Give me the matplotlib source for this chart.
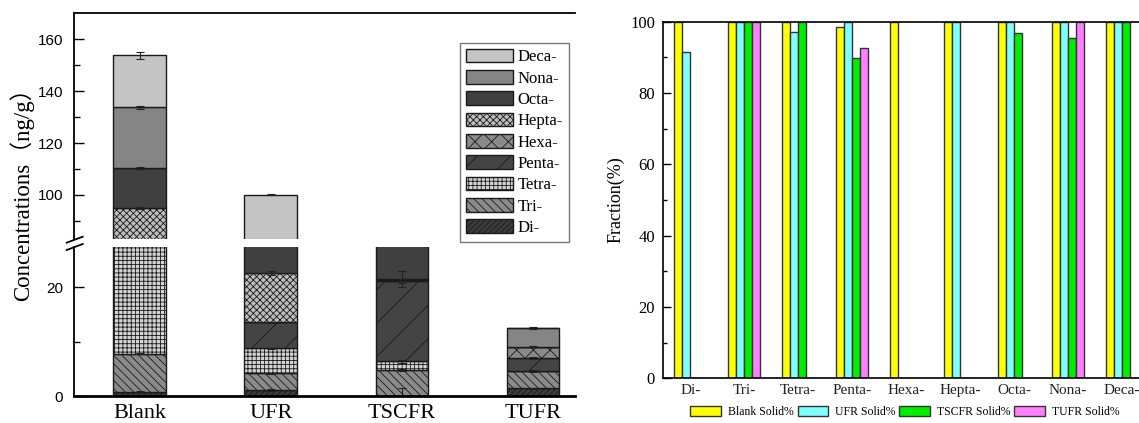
import numpy as np
import matplotlib
matplotlib.use("Agg")
import matplotlib.pyplot as plt
from matplotlib.lines import Line2D

plt.rcParams['hatch.linewidth'] = 0.6
plt.rcParams['hatch.color'] = '#111111'

# ---- donnees : concentrations par homologue (ng/g) ----
samples = ['Blank', 'UFR', 'TSCFR', 'TUFR']
homologs = ['Di-', 'Tri-', 'Tetra-', 'Penta-', 'Hexa-', 'Hepta-', 'Octa-', 'Nona-', 'Deca-']

di = [0.8, 1.1, 0.0, 1.4]
tri = [7.0, 3.1, 4.8, 3.2]
tetra = [62.2, 4.6, 1.6, 0.0]
penta = [0.0, 4.8, 14.8, 2.45]
hexa = [0.0, 0.0, 0.2, 2.05]
hepta = [25.0, 9.0, 0.1, 0.0]
octa = [15.3, 8.0, 20.0, 0.0]
nona = [23.4, 20.0, 0.0, 3.35]
deca = [20.1, 49.4, 0.0, 0.0]

di_err = [0.1, 0.2, 1.5, 0.15]
tri_err = [0.1, 0.1, 0.2, 0.1]
tetra_err = [0.3, 0.1, 0.3, 0.0]
penta_err = [0.0, 0.1, 0.3, 0.2]
hexa_err = [0.0, 0.0, 0.2, 0.1]
hepta_err = [0.3, 0.4, 1.5, 0.0]
octa_err = [0.3, 0.3, 0.3, 0.0]
nona_err = [0.5, 0.3, 0.0, 0.2]
deca_err = [1.3, 0.2, 0.0, 0.0]

# ---- donnees : fraction solide (%) ----
blank_solid = [100, 100, 100, 98.4, 100, 100, 100, 100, 100]
ufr_solid = [91.6, 100, 97.0, 100, 0, 100, 100, 100, 100]
tscfr_solid = [0, 100, 100, 89.7, 0, 0, 96.9, 95.3, 100]
tufr_solid = [0, 100, 0, 92.5, 0, 0, 0, 100, 0]

layers = [di, tri, tetra, penta, hexa, hepta, octa, nona, deca]
errors = [di_err, tri_err, tetra_err, penta_err, hexa_err, hepta_err,
          octa_err, nona_err, deca_err]
styles = [
    ('#3c3c3c', '//////'),
    ('#8a8a8a', '\\\\\\\\'),
    ('#d4d4d4', '++++'),
    ('#444444', '/'),
    ('#8a8a8a', 'xx'),
    ('#bdbdbd', 'xxxxx'),
    ('#404040', None),
    ('#858585', None),
    ('#c4c4c4', None),
]

SERIF = 'Liberation Serif'
SANS = 'Liberation Sans'

W, H = 1139, 423
fig = plt.figure(figsize=(W / 100, H / 100), dpi=100)

def fx(px):
    return px / W

def fy(py):
    return 1 - py / H

ax_hi = fig.add_axes([fx(74), fy(239), fx(575 - 74), fy(13.3) - fy(239)])
ax_lo = fig.add_axes([fx(74), fy(396), fx(575 - 74), fy(246.7) - fy(396)])

x = np.arange(len(samples))
bw = 0.4
handles = []
for ax in (ax_hi, ax_lo):
    bottom = np.zeros(len(samples))
    for i, vals in enumerate(layers):
        col, hatch = styles[i]
        vals = np.array(vals)
        b = ax.bar(x, vals, bw, bottom=bottom, color=col, edgecolor='#1a1a1a',
                   linewidth=1.0, hatch=hatch, label=homologs[i])
        top = bottom + vals
        err = np.array(errors[i])
        m = err > 0
        ax.errorbar(x[m], top[m], yerr=err[m], fmt='none', ecolor='#222222',
                    elinewidth=0.8, capsize=3, capthick=0.8)
        bottom = top
        if ax is ax_hi:
            handles.append(b)

ax_hi.set_ylim(83, 170)
ax_lo.set_ylim(0, 27.5)
for ax in (ax_hi, ax_lo):
    ax.set_xlim(-0.5, 3.32)
    ax.spines['right'].set_visible(False)
    ax.tick_params(axis='y', direction='in', length=7, width=1, pad=8,
                   labelsize=11)
    ax.tick_params(axis='y', which='minor', direction='in', length=4, width=1)
    ax.spines['left'].set_linewidth(1.3)

ax_hi.spines['bottom'].set_visible(False)
ax_hi.spines['top'].set_linewidth(1.3)
ax_hi.set_xticks([])
ax_hi.set_yticks([100, 120, 140, 160])
ax_hi.set_yticks([90, 110, 130, 150], minor=True)

ax_lo.spines['top'].set_visible(False)
ax_lo.spines['bottom'].set_linewidth(2)
ax_lo.set_yticks([0, 20])
ax_lo.set_yticks([10], minor=True)
ax_lo.set_xticks(x)
ax_lo.set_xticklabels(samples, fontfamily=SERIF, fontsize=16)
ax_lo.tick_params(axis='x', length=0, pad=6)
for ax in (ax_hi, ax_lo):
    for lab in ax.get_yticklabels():
        lab.set_fontfamily(SANS)

# marques de coupure de l'axe
for y0 in (242.7, 250.0):
    fig.add_artist(Line2D([fx(66.7), fx(82.7)], [fy(y0), fy(y0 - 6)],
                          color='black', lw=1.3))

fig.text(fx(22), fy(189), 'Concentrations（ng/g）', rotation=90,
         ha='center', va='center', fontsize=16.5,
         family=[SERIF, 'Noto Sans CJK SC'])

leg = fig.legend(handles[::-1], homologs[::-1], loc='upper left',
                 bbox_to_anchor=(fx(460), fy(42.7)),
                 prop={'family': SERIF, 'size': 12}, frameon=True,
                 fancybox=False, edgecolor='#777777', framealpha=1,
                 handlelength=2.8, handleheight=0.9, labelspacing=0.28,
                 handletextpad=0.3, borderpad=0.35, borderaxespad=0)
leg.get_frame().set_linewidth(1.0)
leg.set_zorder(10)

# ---- graphique de droite ----
axr = fig.add_axes([fx(663.3), fy(378.3), fx(1149 - 663.3), fy(21.7) - fy(378.3)])
xr = np.arange(len(homologs))
w = 0.148
series = [(blank_solid, '#ffff00', 'Blank Solid%'),
          (ufr_solid, '#80ffff', 'UFR Solid%'),
          (tscfr_solid, '#00ee00', 'TSCFR Solid%'),
          (tufr_solid, '#ff80ff', 'TUFR Solid%')]
rhandles = []
for k, (vals, col, lab) in enumerate(series):
    b = axr.bar(xr + (k - 1.5) * w, vals, w, color=col, edgecolor='#333333',
                linewidth=1.0, label=lab)
    rhandles.append(b)

axr.set_xlim(-0.5, 8.5)
axr.set_ylim(0, 100)
axr.set_xticks(xr)
axr.set_xticklabels(homologs, fontfamily=SERIF, fontsize=11, color='#222222')
axr.tick_params(axis='x', length=0, pad=4)
axr.set_yticks([0, 20, 40, 60, 80, 100])
axr.set_yticks([10, 30, 50, 70, 90], minor=True)
axr.tick_params(axis='y', direction='in', length=6, width=1, pad=6,
                labelsize=12)
axr.tick_params(axis='y', which='minor', direction='in', length=3, width=1)
for lab in axr.get_yticklabels():
    lab.set_fontfamily(SERIF)
axr.spines['right'].set_visible(False)
for s in ('left', 'bottom', 'top'):
    axr.spines[s].set_linewidth(1.2)
axr.set_ylabel('Fraction(%)', fontfamily=SERIF, fontsize=13, labelpad=4)

fig.legend(rhandles, [s[2] for s in series], loc='center',
           bbox_to_anchor=(fx(905), fy(412)), ncol=4, frameon=False,
           prop={'family': SERIF, 'size': 8.5}, handlelength=2.6,
           handleheight=1.0, handletextpad=0.6, columnspacing=0.3,
           borderpad=0, borderaxespad=0)

fig.savefig('out.png', dpi=100)
